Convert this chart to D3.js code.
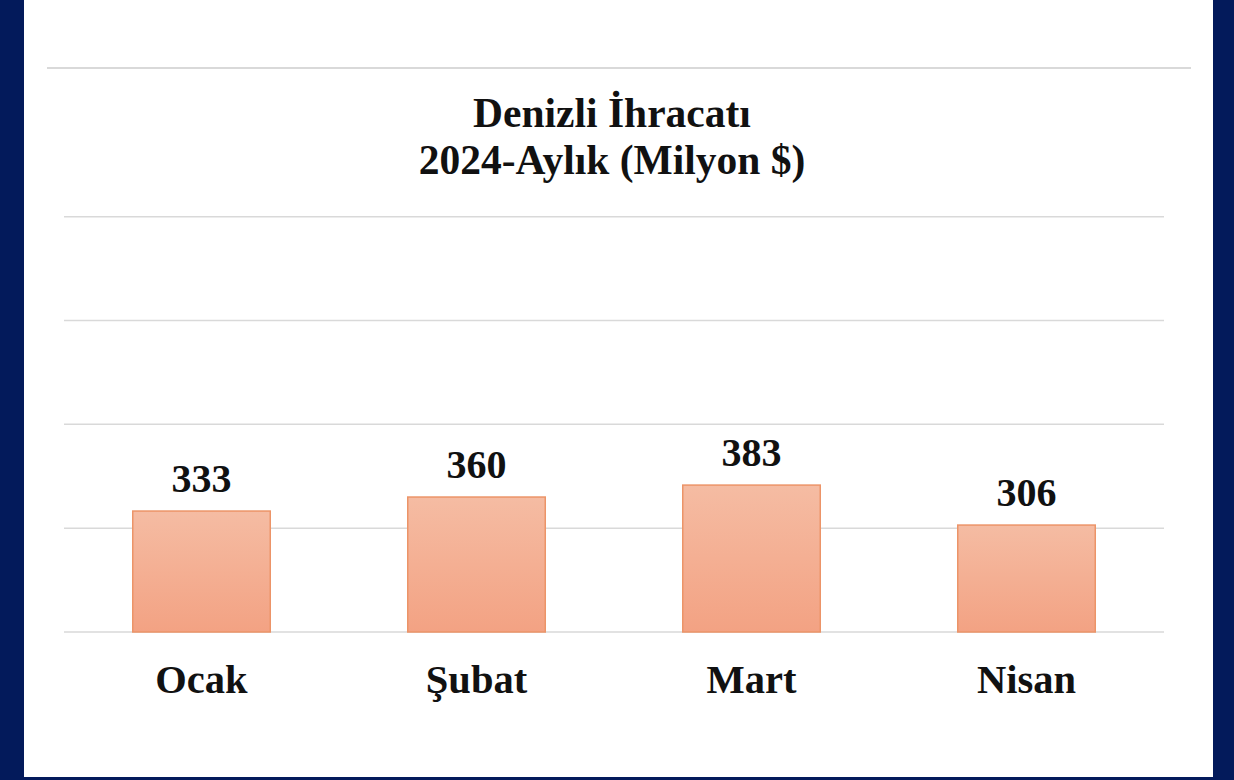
<!DOCTYPE html>
<html>
<head>
<meta charset="utf-8">
<script src="https://cdn.jsdelivr.net/npm/d3@7"></script>
<style>
  body { margin: 0; background: #ffffff; }
  svg { display: block; }
</style>
</head>
<body>
<svg id="chart" width="1234" height="780"></svg>
<script>
// ----- data -----
var months = ['Ocak', 'Şubat', 'Mart', 'Nisan'];
var exportValues = [333, 360, 383, 306];
var gridValues = [100, 300, 500, 700, 900];
var titleLines = ['Denizli İhracatı', '2024-Aylık (Milyon $)'];

var width = 1234, height = 780;
var svg = d3.select('#chart');
var fontFamily = '"Liberation Serif", "Times New Roman", serif';

// dark frame round the slide
svg.append('rect')
   .attr('x', 0).attr('y', 0)
   .attr('width', width).attr('height', height)
   .attr('fill', '#031a5b');
svg.append('rect')
   .attr('x', 24).attr('y', 0)
   .attr('width', 1189).attr('height', 777)
   .attr('fill', '#ffffff');

// thin rule above the title
svg.append('line')
   .attr('x1', 47).attr('x2', 1191)
   .attr('y1', 68).attr('y2', 68)
   .attr('stroke', '#d9d9d9')
   .attr('stroke-width', 2);

// ----- scales -----
var plot = {left: 64, right: 1164, top: 216.7, bottom: 632};

var x = d3.scaleBand()
          .domain(months)
          .range([plot.left, plot.right])
          .paddingInner(0.5)
          .paddingOuter(0.25);

var y = d3.scaleLinear()
          .domain([100, 900])
          .range([plot.bottom, plot.top]);

// gridlines
svg.append('g')
   .selectAll('line.grid')
   .data(gridValues)
   .enter().append('line')
   .attr('class', 'grid')
   .attr('x1', plot.left).attr('x2', plot.right)
   .attr('y1', function(d) {return y(d);})
   .attr('y2', function(d) {return y(d);})
   .attr('stroke', '#d9d9d9')
   .attr('stroke-width', 1.5);

// bar gradient
var grad = svg.append('defs').append('linearGradient')
              .attr('id', 'barFill')
              .attr('x1', 0).attr('x2', 0)
              .attr('y1', 0).attr('y2', 1);
grad.append('stop').attr('offset', '0%').attr('stop-color', '#f5bca3');
grad.append('stop').attr('offset', '100%').attr('stop-color', '#f3a283');

var data = months.map(function(m, i) {return {month: m, value: exportValues[i]};});

// bars
svg.append('g')
   .selectAll('rect.bar')
   .data(data)
   .enter().append('rect')
   .attr('class', 'bar')
   .attr('x', function(d) {return x(d.month);})
   .attr('y', function(d) {return y(d.value);})
   .attr('width', x.bandwidth())
   .attr('height', function(d) {return y(100) - y(d.value);})
   .attr('fill', 'url(#barFill)')
   .attr('stroke', '#ec9468')
   .attr('stroke-width', 1.5);

// value labels
svg.append('g')
   .selectAll('text.value')
   .data(data)
   .enter().append('text')
   .attr('class', 'value')
   .attr('x', function(d) {return x(d.month) + x.bandwidth() / 2;})
   .attr('y', function(d) {return y(d.value) - 19.5;})
   .attr('text-anchor', 'middle')
   .attr('font-family', fontFamily)
   .attr('font-weight', 'bold')
   .attr('font-size', 40)
   .attr('fill', '#111')
   .text(function(d) {return d.value;});

// category labels
svg.append('g')
   .selectAll('text.month')
   .data(months)
   .enter().append('text')
   .attr('class', 'month')
   .attr('x', function(d) {return x(d) + x.bandwidth() / 2;})
   .attr('y', 693)
   .attr('text-anchor', 'middle')
   .attr('font-family', fontFamily)
   .attr('font-weight', 'bold')
   .attr('font-size', 40.5)
   .attr('fill', '#111')
   .text(function(d) {return d;});

// title
svg.append('g')
   .selectAll('text.title')
   .data(titleLines)
   .enter().append('text')
   .attr('class', 'title')
   .attr('x', 612)
   .attr('y', function(d, i) {return 127 + i * 47;})
   .attr('text-anchor', 'middle')
   .attr('font-family', fontFamily)
   .attr('font-weight', 'bold')
   .attr('font-size', 41.5)
   .attr('fill', '#111')
   .text(function(d) {return d;});
</script>
</body>
</html>
